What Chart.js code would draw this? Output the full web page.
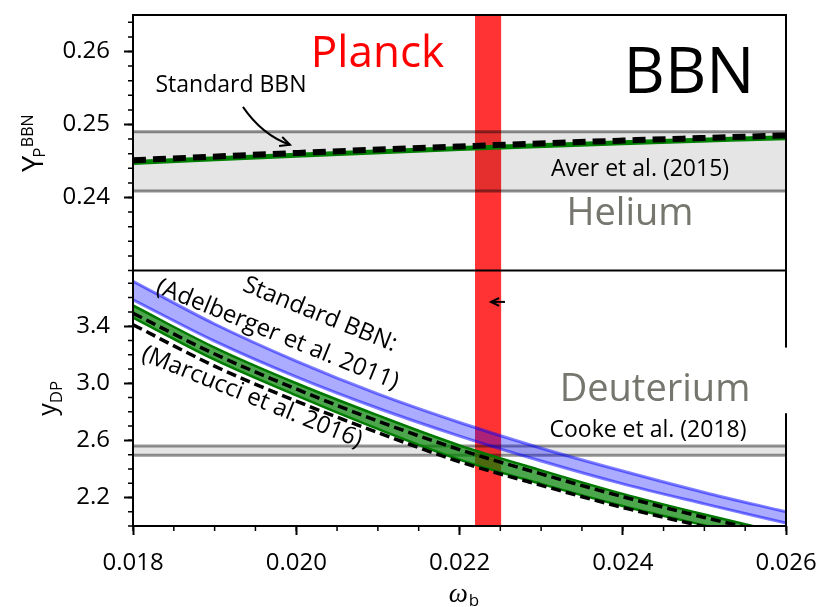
<!DOCTYPE html>
<html>
<head>
<meta charset="utf-8">
<script src="https://cdn.jsdelivr.net/npm/chart.js@4.4.1/dist/chart.umd.min.js"></script>
<style>
  html, body { margin: 0; padding: 0; background: #ffffff; }
  #wrap { width: 817px; height: 607px; }
</style>
</head>
<body>
<div id="wrap"><canvas id="c" width="817" height="607"></canvas></div>
<script>
// ---------------- data ----------------
const xRange = [0.018, 0.026];
const xTicks = [0.018, 0.020, 0.022, 0.024, 0.026];
const heTicks = [0.24, 0.25, 0.26];
const dTicks = [2.2, 2.6, 3.0, 3.4];

// Helium panel
const heOmega = [0.018, 0.020, 0.022, 0.024, 0.026];
const heStdGreen = [0.2448, 0.2458, 0.2467, 0.2475, 0.2482];
const heStdDashed = [0.2451, 0.2461, 0.2470, 0.2478, 0.2485];
const averBand = [0.2409, 0.2490];          // Aver et al. (2015): low, high

// Deuterium panel
const dOmega = [0.018, 0.019, 0.020, 0.021, 0.022, 0.023, 0.024, 0.025, 0.026];
const adelbergerHi = [3.715, 3.415, 3.155, 2.925, 2.725, 2.545, 2.385, 2.235, 2.100];
const adelbergerLo = [3.585, 3.295, 3.045, 2.825, 2.630, 2.455, 2.295, 2.155, 2.020];
const marcucciHi   = [3.545, 3.250, 3.000, 2.775, 2.565, 2.390, 2.225, 2.080, 1.945];
const marcucciLo   = [3.460, 3.165, 2.915, 2.680, 2.465, 2.295, 2.140, 2.005, 1.875];
const dashedHi     = [3.490, 3.205, 2.960, 2.735, 2.535, 2.365, 2.205, 2.060, 1.925];
const dashedLo     = [3.410, 3.120, 2.875, 2.655, 2.450, 2.285, 2.130, 1.995, 1.865];
const cookeBand = [2.495, 2.560];           // Cooke et al. (2018): low, high

// Planck band in omega_b
const planckBand = [0.02219, 0.02251];

// ---------------- helpers ----------------
const FONT = '"Open Sans", sans-serif';
const pts = (xs, ys) => xs.map((x, i) => ({ x: x, y: ys[i] }));
const flat = (v) => xRange.map(x => ({ x: x, y: v }));

const datasets = [
  // top panel
  { data: pts(heOmega, heStdDashed), yAxisID: 'yHe', borderColor: '#000', borderWidth: 6,
    borderDash: [13, 7], fill: false, order: 0, cubicInterpolationMode: 'monotone' },
  { data: pts(heOmega, heStdGreen), yAxisID: 'yHe', borderColor: 'rgb(0,128,0)', borderWidth: 5,
    fill: false, order: 1, cubicInterpolationMode: 'monotone' },
  { data: flat(averBand[1]), yAxisID: 'yHe', borderColor: 'rgba(0,0,0,0.45)', borderWidth: 3,
    fill: '+1', backgroundColor: 'rgba(0,0,0,0.1)', order: 2 },
  { data: flat(averBand[0]), yAxisID: 'yHe', borderColor: 'rgba(0,0,0,0.45)', borderWidth: 3,
    fill: false, order: 2 },
  // bottom panel
  { data: pts(dOmega, dashedHi), yAxisID: 'yD', borderColor: '#000', borderWidth: 3.5,
    borderDash: [10, 5], fill: false, order: 0, cubicInterpolationMode: 'monotone' },
  { data: pts(dOmega, dashedLo), yAxisID: 'yD', borderColor: '#000', borderWidth: 3.5,
    borderDash: [10, 5], fill: false, order: 0, cubicInterpolationMode: 'monotone' },
  { data: pts(dOmega, marcucciHi), yAxisID: 'yD', borderColor: 'rgb(0,120,0)', borderWidth: 2.5,
    fill: '+1', backgroundColor: 'rgba(0,128,0,0.7)', order: 1, cubicInterpolationMode: 'monotone' },
  { data: pts(dOmega, marcucciLo), yAxisID: 'yD', borderColor: 'rgb(0,120,0)', borderWidth: 2.5,
    fill: false, order: 1, cubicInterpolationMode: 'monotone' },
  { data: pts(dOmega, adelbergerHi), yAxisID: 'yD', borderColor: 'rgba(0,0,255,0.5)', borderWidth: 3,
    fill: '+1', backgroundColor: 'rgba(0,0,255,0.33)', order: 2, cubicInterpolationMode: 'monotone' },
  { data: pts(dOmega, adelbergerLo), yAxisID: 'yD', borderColor: 'rgba(0,0,255,0.5)', borderWidth: 3,
    fill: false, order: 2, cubicInterpolationMode: 'monotone' },
  { data: flat(cookeBand[1]), yAxisID: 'yD', borderColor: 'rgba(0,0,0,0.42)', borderWidth: 3,
    fill: '+1', backgroundColor: 'rgba(0,0,0,0.1)', order: 3 },
  { data: flat(cookeBand[0]), yAxisID: 'yD', borderColor: 'rgba(0,0,0,0.42)', borderWidth: 3,
    fill: false, order: 3 }
];

function text(ctx, str, px, py, font, color, align, base, rotDeg) {
  ctx.save();
  ctx.font = font; ctx.fillStyle = color;
  ctx.textAlign = align || 'center'; ctx.textBaseline = base || 'alphabetic';
  ctx.translate(px, py);
  if (rotDeg) ctx.rotate(rotDeg * Math.PI / 180);
  ctx.fillText(str, 0, 0);
  ctx.restore();
}

function arrowHead(ctx, tx, ty, ang, len) {
  ctx.beginPath();
  ctx.moveTo(tx - len * Math.cos(ang - 0.45), ty - len * Math.sin(ang - 0.45));
  ctx.lineTo(tx, ty);
  ctx.lineTo(tx - len * Math.cos(ang + 0.45), ty - len * Math.sin(ang + 0.45));
  ctx.stroke();
}

const deco = {
  id: 'deco',
  beforeDatasetsDraw(chart) {
    const { ctx, scales: { x }, chartArea: a } = chart;
    const x0 = x.getPixelForValue(planckBand[0]);
    const x1 = x.getPixelForValue(planckBand[1]);
    ctx.save();
    ctx.fillStyle = 'rgba(255,0,0,0.8)';
    ctx.fillRect(x0, a.top, x1 - x0, a.bottom - a.top);
    ctx.restore();
  },
  afterDraw(chart) {
    const { ctx, scales: { x, yHe, yD }, chartArea: a } = chart;
    const X = v => x.getPixelForValue(v);
    const YH = v => yHe.getPixelForValue(v);
    const YD = v => yD.getPixelForValue(v);
    ctx.save();
    // frame + divider
    ctx.strokeStyle = '#000'; ctx.lineWidth = 2;
    ctx.strokeRect(a.left, a.top, a.right - a.left, a.bottom - a.top);
    ctx.beginPath(); ctx.moveTo(a.left, yHe.bottom); ctx.lineTo(a.right, yHe.bottom); ctx.stroke();
    // minor ticks
    ctx.lineWidth = 1.5;
    ctx.beginPath();
    for (let k = 0; k <= 17; k++) { const p = YH(0.23 + 0.002 * k); ctx.moveTo(a.left, p); ctx.lineTo(a.left - 5, p); }
    for (let k = 0; k <= 17; k++) { const p = YD(2.0 + 0.1 * k); ctx.moveTo(a.left, p); ctx.lineTo(a.left - 5, p); }
    for (let k = 0; k <= 16; k++) { const p = X(0.018 + 0.0005 * k); ctx.moveTo(p, a.bottom); ctx.lineTo(p, a.bottom + 5); }
    ctx.stroke();
    ctx.restore();

    // top panel annotations
    text(ctx, 'Planck', X(0.020995), YH(0.25789), '44px ' + FONT, '#ff0000', 'center');
    text(ctx, 'BBN', X(0.024812), YH(0.25434), '64px ' + FONT, '#000', 'center');
    text(ctx, 'Standard BBN', X(0.019200), YH(0.25447), '23px ' + FONT, '#000', 'center');
    text(ctx, 'Aver et al. (2015)', X(0.024211), YH(0.24289), '23px ' + FONT, '#000', 'center');
    text(ctx, 'Helium', X(0.024089), YH(0.23622), '38px ' + FONT, '#76766e', 'center');
    // curved arrow
    ctx.save();
    ctx.strokeStyle = '#000'; ctx.lineWidth = 2;
    const sx = X(0.019347), sy = YH(0.25242), cx = X(0.01958), cy = YH(0.24859), ex = X(0.019923), ey = YH(0.24722);
    ctx.beginPath(); ctx.moveTo(sx, sy); ctx.quadraticCurveTo(cx, cy, ex, ey); ctx.stroke();
    arrowHead(ctx, ex, ey, Math.atan2(ey - cy, ex - cx), 11);
    // small arrow in deuterium panel
    const ax0 = X(0.022557), ax1 = X(0.022386), ay = YD(3.57);
    ctx.beginPath(); ctx.moveTo(ax0, ay); ctx.lineTo(ax1, ay); ctx.stroke();
    arrowHead(ctx, ax1, ay, Math.PI, 9);
    ctx.restore();

    // bottom panel annotations
    text(ctx, 'Standard BBN:', X(0.02029), YD(3.481), '24px ' + FONT, '#000', 'center', 'middle', 22);
    text(ctx, '(Adelberger et al. 2011)', X(0.01977), YD(3.341), '24px ' + FONT, '#000', 'center', 'middle', 22);
    text(ctx, '(Marcucci et al. 2016)', X(0.019458), YD(2.902), '24px ' + FONT, '#000', 'center', 'middle', 22);
    // white box behind Deuterium
    ctx.save(); ctx.fillStyle = '#fff';
    ctx.fillRect(X(0.02329), YD(3.25), 260, YD(2.79) - YD(3.25));
    ctx.restore();
    text(ctx, 'Deuterium', X(0.024395), YD(2.8726), '38px ' + FONT, '#76766e', 'center');
    text(ctx, 'Cooke et al. (2018)', X(0.024309), YD(2.627), '23px ' + FONT, '#000', 'center');

    // axis titles
    ctx.save();
    ctx.fillStyle = '#000';
    // Y_P^BBN
    const cyHe = (yHe.top + yHe.bottom) / 2;
    ctx.font = '29px ' + FONT; const wY = ctx.measureText('Y').width;
    ctx.font = '16px ' + FONT; const wP = ctx.measureText('P').width; const wB = ctx.measureText('BBN').width;
    const tot = wY + wP + wB;
    ctx.translate(43, cyHe + tot / 2);
    ctx.rotate(-Math.PI / 2);
    ctx.textAlign = 'left'; ctx.textBaseline = 'alphabetic';
    ctx.font = '29px ' + FONT; ctx.fillText('Y', 0, 0);
    ctx.font = '17px ' + FONT; ctx.fillText('P', wY - 2, 2);
    ctx.font = '16px ' + FONT; ctx.fillText('BBN', wY + wP - 1, -10);
    ctx.restore();

    ctx.save();
    ctx.fillStyle = '#000';
    const cyD = (yD.top + yD.bottom) / 2;
    ctx.font = '25px ' + FONT; const wy = ctx.measureText('y').width;
    ctx.font = '17px ' + FONT; const wDP = ctx.measureText('DP').width;
    ctx.translate(56, cyD + (wy + wDP) / 2);
    ctx.rotate(-Math.PI / 2);
    ctx.textAlign = 'left'; ctx.textBaseline = 'alphabetic';
    ctx.font = '25px ' + FONT; ctx.fillText('y', 0, 0);
    ctx.font = '17px ' + FONT; ctx.fillText('DP', wy, 6);
    ctx.restore();

    // omega_b
    ctx.save();
    ctx.fillStyle = '#000'; ctx.textAlign = 'left'; ctx.textBaseline = 'alphabetic';
    const cxw = (a.left + a.right) / 2 + 4;
    ctx.font = 'italic 27px "Liberation Serif", serif'; const ww = ctx.measureText('ω').width;
    ctx.font = '17px ' + FONT; const wb = ctx.measureText('b').width;
    const x0 = cxw - (ww + wb) / 2;
    ctx.font = 'italic 27px "Liberation Serif", serif'; ctx.fillText('ω', x0, 602);
    ctx.font = '17px ' + FONT; ctx.fillText('b', x0 + ww + 1, 606);
    ctx.restore();
  }
};

const tickFont = { family: FONT, size: 24 };
const yCommon = (ticksArr, dec) => ({
  type: 'linear', position: 'left', stack: 'panels', stackWeight: 1,
  afterBuildTicks: s => { s.ticks = ticksArr.map(v => ({ value: v })); },
  afterFit: s => { s.width = 133; s.paddingTop = 0; s.paddingBottom = 0; s.paddingLeft = 0; s.paddingRight = 0; },
  ticks: { font: tickFont, color: '#000', padding: 14, callback: v => Number(v).toFixed(dec) },
  grid: { drawOnChartArea: false, drawTicks: true, tickLength: 9, tickWidth: 2, tickColor: '#000' },
  border: { display: false }
});

new Chart(document.getElementById('c'), {
  type: 'line',
  data: { datasets: datasets },
  options: {
    responsive: false,
    devicePixelRatio: 1,
    animation: false,
    layout: { padding: { top: 15, right: 31, bottom: 0, left: 0 } },
    elements: { point: { radius: 0 }, line: { tension: 0 } },
    plugins: { legend: { display: false }, tooltip: { enabled: false } },
    scales: {
      x: {
        type: 'linear', min: xRange[0], max: xRange[1],
        afterBuildTicks: s => { s.ticks = xTicks.map(v => ({ value: v })); },
        afterFit: s => { s.height = 81; s.paddingTop = 0; s.paddingBottom = 0; s.paddingLeft = 0; s.paddingRight = 0; },
        ticks: { font: tickFont, color: '#000', padding: 14, maxRotation: 0, autoSkip: false,
                 callback: v => Number(v).toFixed(3) },
        grid: { drawOnChartArea: false, drawTicks: true, tickLength: 9, tickWidth: 2, tickColor: '#000' },
        border: { display: false }
      },
      yD: Object.assign(yCommon(dTicks, 1), { min: 2.0, max: 3.79 }),
      yHe: Object.assign(yCommon(heTicks, 2), { min: 0.23, max: 0.265 })
    }
  },
  plugins: [deco]
});
</script>
</body>
</html>
